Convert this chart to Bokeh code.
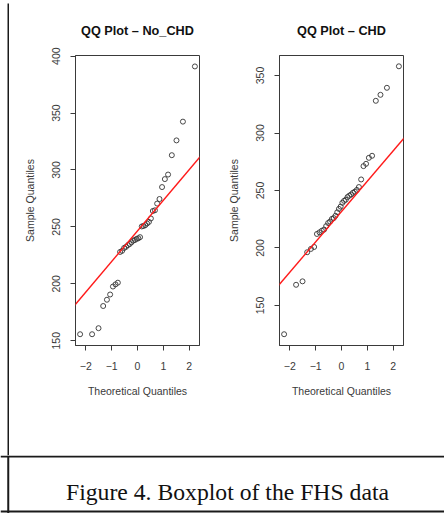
import math
from bokeh.plotting import figure
from bokeh.layouts import row, column
from bokeh.models import Slope, FixedTicker, Range1d, Label, Span
from bokeh.embed import file_html
from bokeh.resources import INLINE

# ---------------- data ----------------
theoretical_q = [-2.221, -1.757, -1.508, -1.328, -1.183, -1.059, -0.950, -0.851,
                 -0.760, -0.674, -0.594, -0.517, -0.443, -0.371, -0.301, -0.233,
                 -0.166, -0.099, -0.033, 0.033, 0.099, 0.166, 0.233, 0.301,
                 0.371, 0.443, 0.517, 0.594, 0.674, 0.760, 0.851, 0.950,
                 1.059, 1.183, 1.328, 1.508, 1.757, 2.221]

no_chd_sample = [155.7, 155.7, 161, 180.5, 186, 190.6, 197.6, 199.5, 201,
                 228, 229, 231.5, 232.5, 234, 235, 236.5, 238, 238.5, 239.5, 240, 241,
                 250.4, 250.8, 251.5, 253, 254.4, 257.4,
                 264, 264.6, 270.5, 274.5,
                 285, 292, 296, 313, 326, 342.5, 391]

chd_sample = [125, 168, 171, 196.3, 199.2, 200.9, 212.2, 213.6, 215, 216,
              219, 221.7, 223, 225.3, 226, 228, 231, 234, 236, 239.3,
              241, 242, 244.3, 245.5, 246.5, 248, 249, 250.5, 253, 259.6,
              271.2, 273.2, 278.4, 280.2, 328, 333.2, 339.3, 358]

no_chd_qqline = {"intercept": 246.5, "slope": 26.9}
chd_qqline = {"intercept": 231.7, "slope": 26.4}

x_ticks = [-2, -1, 0, 1, 2]
no_chd_y_ticks = [150, 200, 250, 300, 350, 400]
chd_y_ticks = [150, 200, 250, 300, 350]

titles = ["QQ Plot \u2013 No_CHD", "QQ Plot \u2013 CHD"]
caption = "Figure 4. Boxplot of the FHS data"

INK = "#3a3a3a"
RULE = "#1a1a1a"
W = 444
STRIP_H = 3
CAP_H = 58
TOP_H = 513 - STRIP_H - CAP_H
VLINE_X = 7.75


def blank(width, height, fill="white"):
    b = figure(width=width, height=height, output_backend="svg", title=None,
               toolbar_location=None, min_border=0,
               x_axis_location=None, y_axis_location=None,
               x_range=Range1d(0, width), y_range=Range1d(0, height),
               outline_line_color=None, background_fill_color=fill,
               border_fill_color=fill)
    b.xgrid.visible = False
    b.ygrid.visible = False
    return b


def qq_fig(title, xs, ys, yrange, yticks, qqline, width, bl, br):
    p = figure(width=width, height=TOP_H, output_backend="svg",
               toolbar_location=None,
               x_range=Range1d(-2.399, 2.399), y_range=Range1d(*yrange),
               min_border_left=bl, min_border_right=br,
               min_border_top=55 - STRIP_H,
               min_border_bottom=TOP_H - (55 - STRIP_H) - 290,
               background_fill_color="white", border_fill_color="white")
    p.xgrid.visible = False
    p.ygrid.visible = False
    p.outline_line_color = INK
    p.outline_line_width = 1

    p.title.text = title
    p.title.align = "center"
    p.title.vertical_align = "middle"
    p.title.standoff = 33
    p.title.text_font = "Liberation Sans"
    p.title.text_font_style = "bold"
    p.title.text_font_size = "12.7px"
    p.title.text_color = "#111111"

    for ax in (p.xaxis[0], p.yaxis[0]):
        ax.axis_line_color = INK
        ax.major_tick_line_color = INK
        ax.minor_tick_line_color = None
        ax.major_tick_in = 0
        ax.major_tick_out = 5
        ax.major_label_text_font = "Liberation Sans"
        ax.major_label_text_font_size = "10.5px"
        ax.major_label_text_color = INK
        ax.axis_label_text_font = "Liberation Sans"
        ax.axis_label_text_font_size = "10.5px"
        ax.axis_label_text_font_style = "normal"
        ax.axis_label_text_color = INK

    p.xaxis.ticker = FixedTicker(ticks=x_ticks, minor_ticks=[])
    p.xaxis.axis_label = "Theoretical Quantiles"
    p.xaxis.major_label_standoff = 11
    p.xaxis.axis_label_standoff = 12

    p.yaxis.ticker = FixedTicker(ticks=yticks, minor_ticks=[])
    p.yaxis.axis_label = "Sample Quantiles"
    p.yaxis.major_label_orientation = "parallel"
    p.yaxis.major_label_standoff = 10
    p.yaxis.axis_label_standoff = 14

    p.scatter(xs, ys, marker="circle", size=5, fill_color=None,
              line_color="#333333", line_width=0.9)
    p.add_layout(Slope(gradient=qqline["slope"], y_intercept=qqline["intercept"],
                       line_color="#ff1a1a", line_width=1.4))
    return p


left = qq_fig(titles[0], theoretical_q, no_chd_sample, (145.8, 400.6),
              no_chd_y_ticks, no_chd_qqline, 213, 66, 23)
right = qq_fig(titles[1], theoretical_q, chd_sample, (115.2, 367.4),
               chd_y_ticks, chd_qqline, 222, 57, 41)

# top rule: thick stubs at both ends, thin rule between
thin_top = blank(409, STRIP_H)
thin_top.add_layout(Span(location=STRIP_H - 1.5, dimension="width",
                         line_color="#2a2a2a", line_width=1.3))
strip = row(blank(22, STRIP_H, RULE), thin_top, blank(13, STRIP_H, RULE))

# vertical rule beside the plots
vstrip = row(blank(7, TOP_H), blank(2, TOP_H, RULE))

# caption cell
cap = blank(W, CAP_H)
cap.add_layout(Span(location=CAP_H - 1, dimension="width",
                    line_color=RULE, line_width=2))
cap.add_layout(Span(location=2, dimension="width",
                    line_color=RULE, line_width=2))
cap.add_layout(Span(location=VLINE_X, dimension="height",
                    line_color=RULE, line_width=2))
cap.add_layout(Label(x=227, y=CAP_H - 36, text=caption, text_align="center",
                     text_baseline="alphabetic", text_font="Liberation Serif",
                     text_font_size="23.7px", text_color="#111111"))

root = column(strip, row(vstrip, left, right), cap)
root.styles = {"position": "absolute", "left": "0px", "top": "0px"}

open("out.html", "w").write(file_html(root, INLINE))
